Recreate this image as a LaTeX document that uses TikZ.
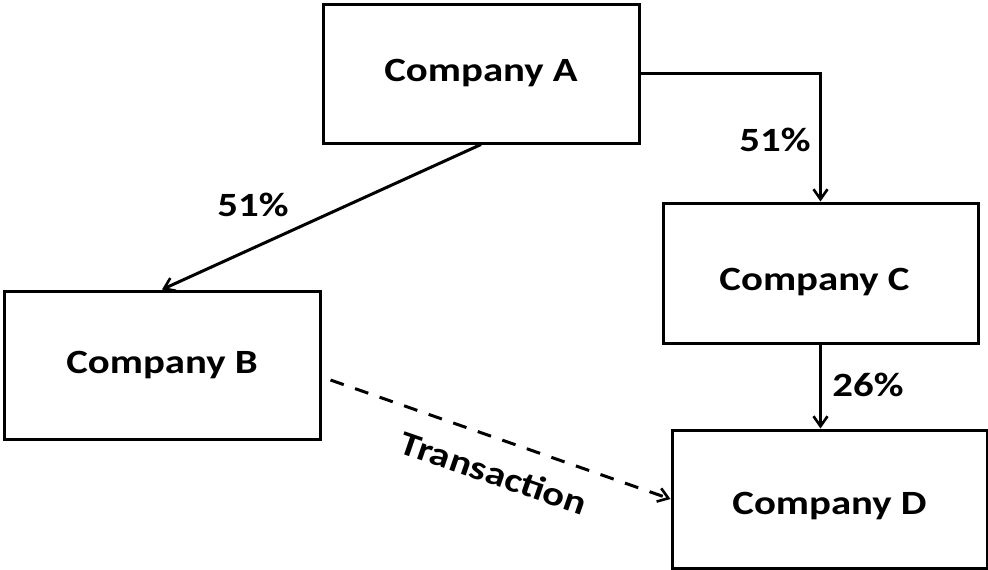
\documentclass[tikz,border=0pt]{standalone}
\usepackage{fontspec}
\usepackage{graphicx}
\setmainfont{Carlito}
\usetikzlibrary{arrows.meta}
% text set a little wider than the font's natural width
\newcommand{\widetext}[1]{\scalebox{1.2}[1]{#1}}
% pad the top of a text so that it sits lower in its box
\newcommand{\lowered}[2]{\raisebox{0pt}[\dimexpr\height+#1\relax]{#2}}
\begin{document}
\begin{tikzpicture}[x=1pt,y=-1pt,
  company/.style={draw, line width=3pt, rectangle, inner sep=0pt,
    font=\fontsize{34}{40}\selectfont\bfseries},
  share/.style={font=\fontsize{34}{40}\selectfont\bfseries, inner sep=0pt},
  link/.style={line width=3pt, -{Straight Barb[length=10pt,width=14pt,line width=2.6pt]}}]
  \useasboundingbox (0,0) rectangle (988,570);

  % the four companies
  \node[company, minimum width=316pt, minimum height=139pt] (A) at (481,73.5) {\widetext{Company A}};
  \node[company, minimum width=316pt, minimum height=148pt] (B) at (162,365) {\widetext{Company B}};
  \node[company, minimum width=315pt, minimum height=140pt] (C) at (820.5,273)
    {\hspace*{-12pt}\lowered{18pt}{\widetext{Company C}}};
  \node[company, minimum width=315pt, minimum height=138pt] (D) at (829.5,499)
    {\lowered{14pt}{\widetext{Company D}}};

  % ownership links
  \draw[link] (A.south) -- (B.north);
  \draw[link] (A.east) -| (C.north);
  \draw[link] (C.south) -- (C.south |- D.north);

  % transaction between B and D
  \coordinate (T) at ([xshift=9pt,yshift=-15pt]B.east);
  \draw[link, dash pattern=on 14pt off 12pt] (T) -- (D.west);

  % labels
  \node[share] (lAB) at (253,205) {\widetext{51\%}};
  \node[share] (lAC) at (775,140) {\widetext{51\%}};
  \node[share] (lCD) at (868,385) {\widetext{26\%}};
  \node[share, rotate=-19] (lT) at (494,473) {\widetext{Transaction}};
\end{tikzpicture}
\end{document}
